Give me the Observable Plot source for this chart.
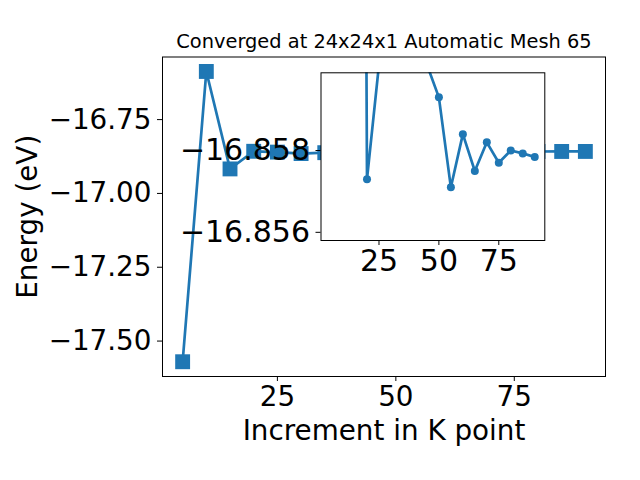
<!DOCTYPE html>
<html><head><meta charset="utf-8">
<script src="https://cdn.jsdelivr.net/npm/d3@7"></script>
<script src="https://cdn.jsdelivr.net/npm/@observablehq/plot@0.6"></script>
<style>
body{margin:0;background:#fff;}
#wrap{position:relative;width:640px;height:480px;font-family:"DejaVu Sans",sans-serif;}
#wrap svg{position:absolute;left:0;top:0;}
</style></head><body><div id="wrap"></div>
<script>
const kpoints = [5, 10, 15, 20, 25, 30, 35, 40, 45, 50, 55, 60, 65, 70, 75, 80, 85, 90];
const energies = [-17.570, -16.587, -16.917, -16.8573, -16.8601, -16.8650, -16.8620, -16.8610, -16.8601,
                  -16.8593, -16.8571, -16.8584, -16.8575, -16.8582, -16.8577, -16.8580, -16.85793, -16.85784];
const mainXTicks = [25, 50, 75];
const mainYTicks = [-16.75, -17.00, -17.25, -17.50];
const insetXTicks = [25, 50, 75];
const insetYTicks = [-16.858, -16.856];
const insetStart = 2;
const title = "Converged at 24x24x1 Automatic Mesh 65";
const xLabel = "Increment in K point";
const yLabel = "Energy (eV)";

const blue = "#1f77b4";
const data = kpoints.map((k, i) => ({k, e: energies[i]}));
const insetData = data.slice(insetStart);
const font = "DejaVu Sans";

const main = Plot.plot({
  width: 640, height: 480,
  marginLeft: 162, marginRight: 35, marginTop: 56.5, marginBottom: 104,
  style: {fontFamily: font, background: "transparent", color: "black"},
  x: {domain: [0.75, 94.25]},
  y: {domain: [-17.62, -16.538]},
  marks: [
    Plot.line(data, {x: "k", y: "e", stroke: blue, strokeWidth: 2.7}),
    Plot.dot(data, {x: "k", y: "e", symbol: "square", fill: blue, r: 8.4}),
    Plot.frame({stroke: "black", strokeWidth: 1}),
    Plot.axisX(mainXTicks, {tickSize: 5, tickPadding: 4.5, label: null, fontSize: 27.8}),
    Plot.axisY(mainYTicks, {tickSize: 5, tickPadding: 6, label: null, fontSize: 27.8, tickFormat: d3.format(".2f")}),
    Plot.text([title], {frameAnchor: "top", dy: -15, fontSize: 19.4, lineAnchor: "middle"}),
    Plot.text([xLabel], {frameAnchor: "bottom", dy: 55, fontSize: 27.8, lineAnchor: "middle"}),
    Plot.text([yLabel], {frameAnchor: "left", dx: -134, rotate: -90, fontSize: 27.8, lineAnchor: "middle", textAnchor: "middle"})
  ]
});

const inset = Plot.plot({
  width: 640, height: 480,
  marginLeft: 320.5, marginRight: 95.7, marginTop: 72.3, marginBottom: 240,
  style: {fontFamily: font, background: "transparent", color: "black"},
  x: {domain: [0.8, 94.2]},
  y: {domain: [-16.8599, -16.8558], reverse: true},
  marks: [
    Plot.frame({fill: "white", stroke: "none"}),
    Plot.line(insetData, {x: "k", y: "e", stroke: blue, strokeWidth: 2.7, clip: true}),
    Plot.dot(insetData, {x: "k", y: "e", fill: blue, r: 4, clip: true}),
    Plot.frame({stroke: "black", strokeWidth: 1}),
    Plot.axisX(insetXTicks, {tickSize: 5, tickPadding: 4, label: null, fontSize: 30}),
    Plot.axisY(insetYTicks, {tickSize: 5, tickPadding: 6, label: null, fontSize: 30, tickFormat: d3.format(".3f")})
  ]
});

const wrap = document.getElementById("wrap");
wrap.appendChild(main);
wrap.appendChild(inset);
</script>
</body></html>
